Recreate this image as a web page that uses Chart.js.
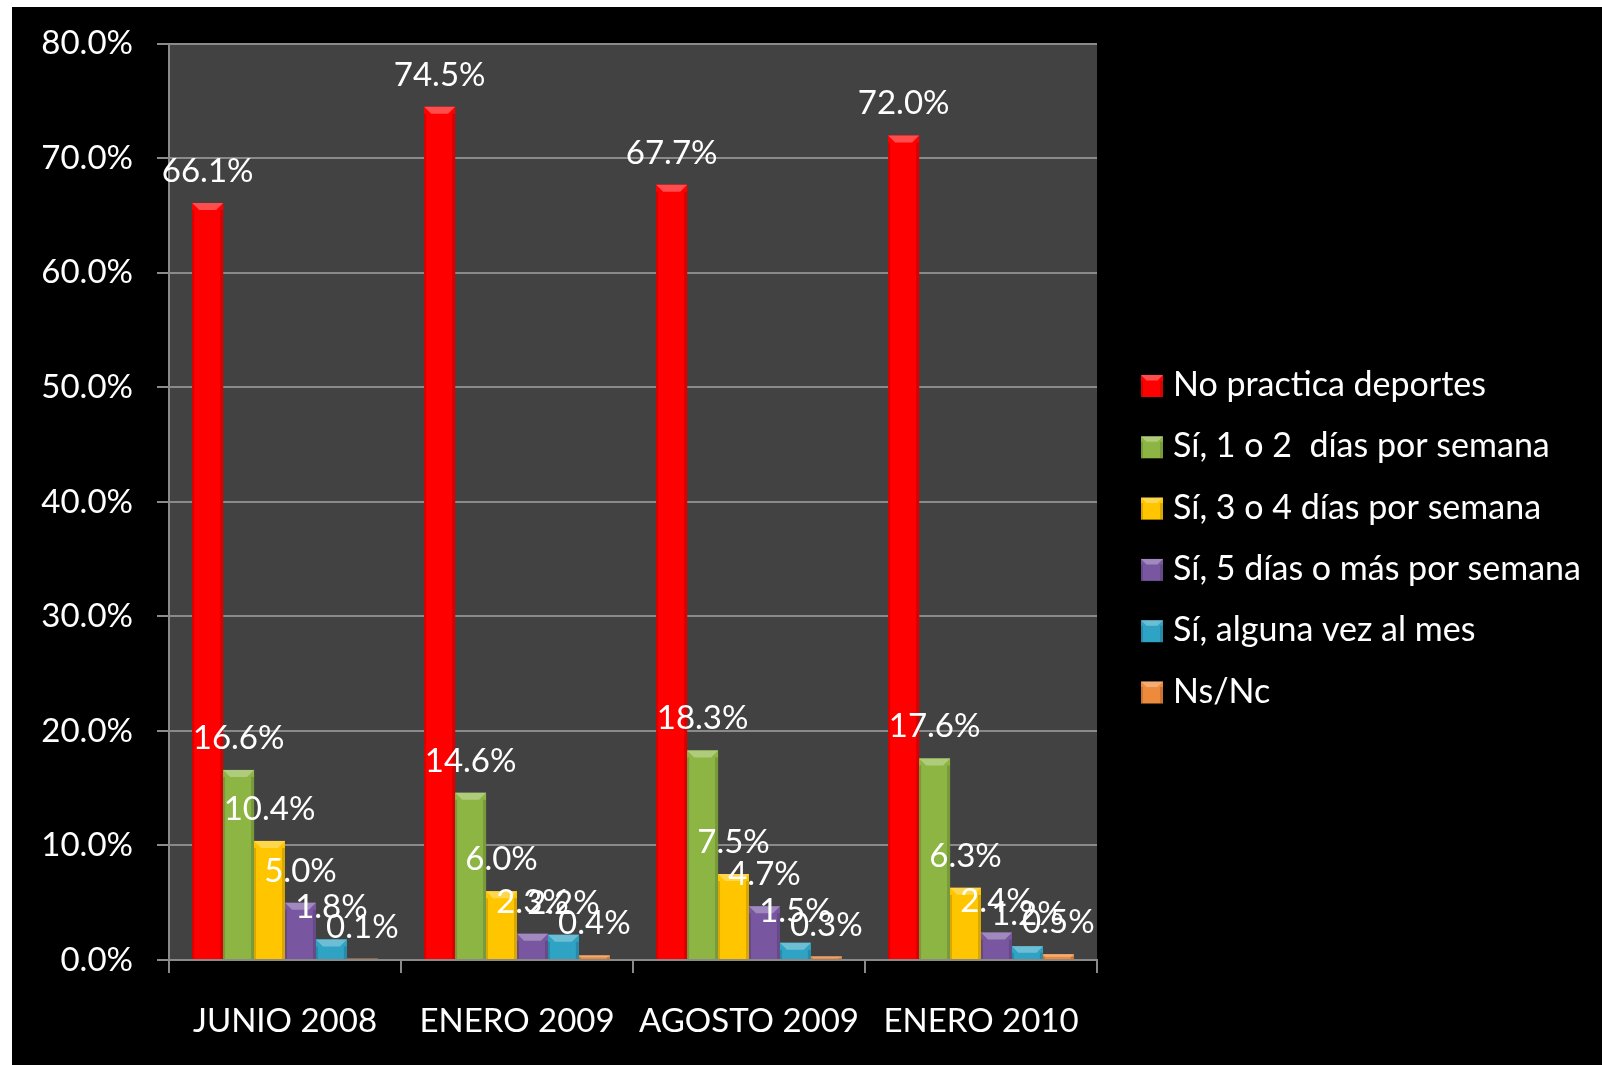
<!DOCTYPE html>
<html>
<head>
<meta charset="utf-8">
<script src="https://cdn.jsdelivr.net/npm/chart.js@4.4.1/dist/chart.umd.min.js"></script>
<style>
  body { margin: 0; background: #ffffff; }
  canvas { display: block; }
</style>
</head>
<body>
<canvas id="grafico" width="1602" height="1065"></canvas>
<script>
var periodi = ['JUNIO 2008', 'ENERO 2009', 'AGOSTO 2009', 'ENERO 2010'];
var serie = ['No practica deportes', 'Sí, 1 o 2  días por semana', 'Sí, 3 o 4 días por semana', 'Sí, 5 días o más por semana', 'Sí, alguna vez al mes', 'Ns/Nc'];
var noPractica = [66.1, 74.5, 67.7, 72.0];
var unoDos = [16.6, 14.6, 18.3, 17.6];
var tresCuatro = [10.4, 6.0, 7.5, 6.3];
var cincoMas = [5.0, 2.3, 4.7, 2.4];
var algunaVez = [1.8, 2.2, 1.5, 1.2];
var nsNc = [0.1, 0.4, 0.3, 0.5];
var colori = ['#ff0000', '#8db544', '#ffc600', '#7857a0', '#2fa3c3', '#ee8a3c'];

var FONT = 'Lato, "Open Sans", sans-serif';

// sfondo nero, riquadro grigio dell'area
var sfondo = {
    id: 'sfondo',
    beforeDraw: function (chart) {
        var ctx = chart.ctx;
        var a = chart.chartArea;
        ctx.save();
        ctx.fillStyle = '#ffffff';
        ctx.fillRect(0, 0, chart.width, chart.height);
        ctx.fillStyle = '#000000';
        ctx.fillRect(12, 7, chart.width - 12, chart.height - 7);
        ctx.fillStyle = '#424242';
        ctx.fillRect(a.left, a.top, a.right - a.left, a.bottom - a.top);
        ctx.restore();
    }
};

function bisello(ctx, x, y, w, h, colore) {
    var b = Math.min(7, h / 2, w / 4);
    ctx.fillStyle = colore;
    ctx.fillRect(x, y, w, h);
    ctx.fillStyle = 'rgba(255,255,255,0.30)';
    ctx.beginPath();
    ctx.moveTo(x, y);
    ctx.lineTo(x + w, y);
    ctx.lineTo(x + w - b, y + b);
    ctx.lineTo(x + b, y + b);
    ctx.closePath();
    ctx.fill();
    ctx.fillStyle = 'rgba(0,0,0,0.15)';
    ctx.fillRect(x, y + b, 2, h - b);
    ctx.fillRect(x + w - 3, y + b, 3, h - b);
}

// effetto 3D ed etichette
var barre = {
    id: 'barre',
    afterDatasetsDraw: function (chart) {
        var ctx = chart.ctx;
        ctx.save();
        chart.data.datasets.forEach(function (ds, i) {
            var meta = chart.getDatasetMeta(i);
            meta.data.forEach(function (bar) {
                var w = bar.width;
                bisello(ctx, bar.x - w / 2, bar.y, w, bar.base - bar.y, ds.backgroundColor);
            });
        });
        ctx.fillStyle = '#ffffff';
        ctx.font = '33px ' + FONT;
        ctx.textAlign = 'center';
        ctx.textBaseline = 'alphabetic';
        chart.data.datasets.forEach(function (ds, i) {
            var meta = chart.getDatasetMeta(i);
            meta.data.forEach(function (bar, j) {
                ctx.fillText(ds.data[j].toFixed(1) + '%', bar.x, bar.y - 21);
            });
        });
        ctx.restore();
    }
};

var legenda = {
    id: 'legenda',
    afterDraw: function (chart) {
        var ctx = chart.ctx;
        ctx.save();
        ctx.font = '34px ' + FONT;
        ctx.fillStyle = '#ffffff';
        ctx.textAlign = 'left';
        ctx.textBaseline = 'alphabetic';
        chart.data.datasets.forEach(function (ds, i) {
            var base = 396 + i * 61.3;
            bisello(ctx, 1141, base - 21, 22, 22, ds.backgroundColor);
            ctx.fillStyle = '#ffffff';
            ctx.fillText(ds.label, 1173, base);
        });
        ctx.restore();
    }
};

var valori = [noPractica, unoDos, tresCuatro, cincoMas, algunaVez, nsNc];
var datasets = serie.map(function (nome, i) {
    return {
        label: nome,
        data: valori[i],
        backgroundColor: colori[i],
        borderWidth: 0,
        categoryPercentage: 0.8,
        barPercentage: 1.0
    };
});

var grafico = new Chart(document.getElementById('grafico'), {
    type: 'bar',
    data: {
        labels: periodi,
        datasets: datasets
    },
    options: {
        responsive: false,
        animation: false,
        layout: { padding: { top: 43, right: 505, left: 0, bottom: 0 } },
        plugins: {
            legend: { display: false },
            tooltip: { enabled: false }
        },
        scales: {
            x: {
                grid: {
                    offset: true,
                    drawOnChartArea: false,
                    drawTicks: true,
                    tickLength: 13,
                    color: '#8a8a8a',
                    lineWidth: 2
                },
                border: { color: '#8a8a8a', width: 2 },
                ticks: {
                    color: '#ffffff',
                    font: { family: FONT, size: 33 },
                    padding: 29,
                    maxRotation: 0
                },
                afterFit: function (scale) { scale.height = 105; }
            },
            y: {
                min: 0,
                max: 80,
                ticks: {
                    stepSize: 10,
                    color: '#ffffff',
                    font: { family: FONT, size: 33 },
                    padding: 24,
                    callback: function (v) { return v.toFixed(1) + '%'; }
                },
                grid: {
                    color: '#8a8a8a',
                    lineWidth: 2,
                    tickLength: 12
                },
                border: { color: '#8a8a8a', width: 2 },
                afterFit: function (scale) { scale.width = 169; }
            }
        }
    },
    plugins: [sfondo, barre, legenda]
});
</script>
</body>
</html>
